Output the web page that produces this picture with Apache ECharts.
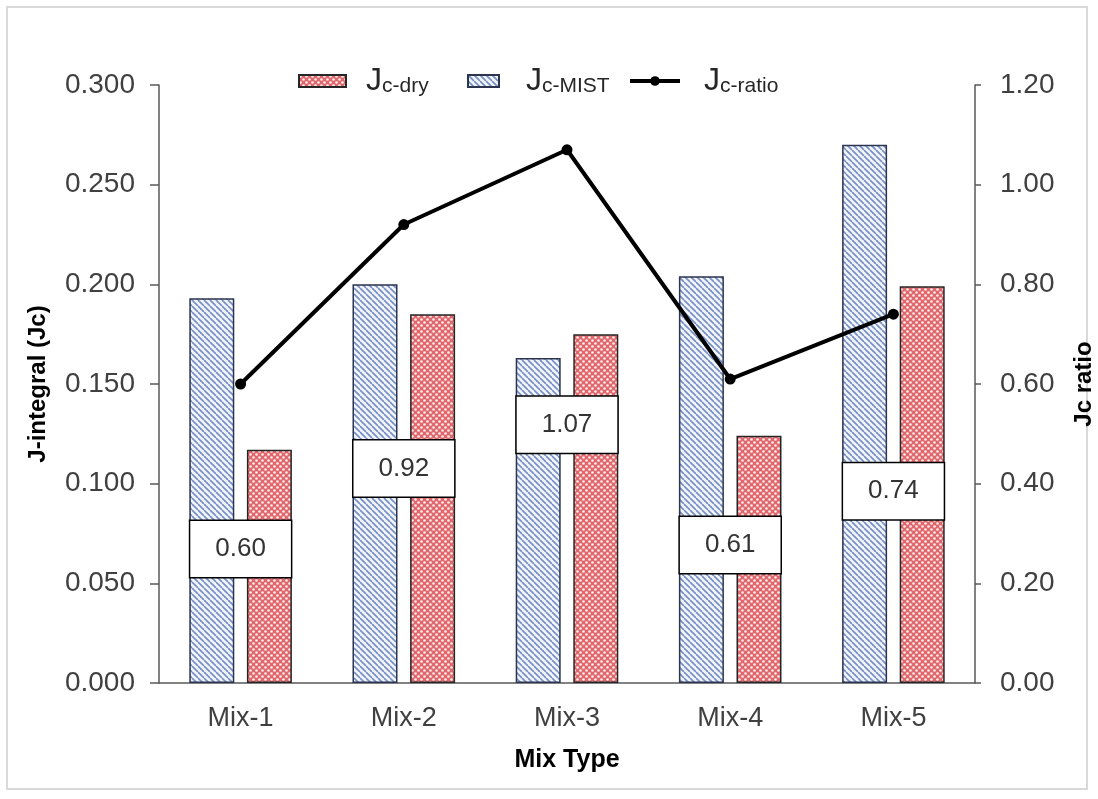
<!DOCTYPE html>
<html>
<head>
<meta charset="utf-8">
<script src="https://cdn.jsdelivr.net/npm/echarts@6/dist/echarts.min.js"></script>
<style>
  html, body { margin: 0; padding: 0; background: #fff; }
  #wrap { position: relative; width: 1098px; height: 799px; }
  #frame { position: absolute; left: 6px; top: 6px; width: 1082px; height: 784px; border: 2px solid #d9d9d9; box-sizing: border-box; }
  #chart { position: absolute; left: 0; top: 0; width: 1098px; height: 799px; }
</style>
</head>
<body>
<div id="wrap">
  <div id="frame"></div>
  <div id="chart"></div>
</div>
<script>
// data
const categories = ['Mix-1', 'Mix-2', 'Mix-3', 'Mix-4', 'Mix-5'];
const jcMist = [0.193, 0.200, 0.163, 0.204, 0.270];
const jcDry = [0.117, 0.185, 0.175, 0.124, 0.199];
const jcRatio = [0.60, 0.92, 1.07, 0.61, 0.74];

// how far each ratio label box sits below its point (px)
const labelShift = [165, 244, 275, 166, 177];

const FONT = 'Liberation Sans, Arial, sans-serif';

// hatch fills
function stripePattern() {
  const c = document.createElement('canvas');
  c.width = 6; c.height = 6;
  const g = c.getContext('2d');
  g.fillStyle = '#f2f5fb';
  g.fillRect(0, 0, 6, 6);
  g.strokeStyle = '#7890c4';
  g.lineWidth = 1.7;
  [-6, 0, 6].forEach(k => {
    g.beginPath();
    g.moveTo(k, 0);
    g.lineTo(k + 6, 6);
    g.stroke();
  });
  return c;
}

function dotPattern() {
  const c = document.createElement('canvas');
  c.width = 6; c.height = 6;
  const g = c.getContext('2d');
  g.fillStyle = '#e0686c';
  g.fillRect(0, 0, 6, 6);
  g.fillStyle = '#fdeeee';
  g.beginPath(); g.arc(1.5, 1.5, 1.3, 0, Math.PI * 2); g.fill();
  g.beginPath(); g.arc(4.5, 4.5, 1.3, 0, Math.PI * 2); g.fill();
  return c;
}

const mistFill = { image: stripePattern(), repeat: 'repeat' };
const dryFill = { image: dotPattern(), repeat: 'repeat' };

const subs = { 'Jc-dry': 'c-dry', 'Jc-MIST': 'c-MIST', 'Jc-ratio': 'c-ratio' };

function makeLegend(name, left, w, h, padLeft, icon) {
  return {
    data: [{ name: name, icon: icon }],
    left: left,
    top: 60,
    itemWidth: w,
    itemHeight: h,
    selectedMode: false,
    lineStyle: { width: 4 },
    formatter: n => '{j|J}{s|' + subs[n] + '}',
    textStyle: {
      padding: [0, 0, 0, padLeft],
      rich: {
        j: { fontSize: 32, fontFamily: FONT, color: '#262626', lineHeight: 32, padding: [0, 0, 8, 0], verticalAlign: 'top' },
        s: { fontSize: 21, fontFamily: FONT, color: '#262626', lineHeight: 21, verticalAlign: 'bottom' }
      }
    }
  };
}

const chart = echarts.init(document.getElementById('chart'));

const option = {
  animation: false,
  backgroundColor: 'transparent',
  grid: { left: 159, right: 123, top: 85, bottom: 116, containLabel: false, outerBoundsMode: 'none' },
  legend: [
    makeLegend('Jc-dry', 293, 47, 12, 15, 'rect'),
    makeLegend('Jc-MIST', 462, 31, 12, 22, 'rect'),
    makeLegend('Jc-ratio', 623, 50, 12, 19, undefined)
  ],
  xAxis: {
    type: 'category',
    data: categories,
    name: 'Mix Type',
    nameLocation: 'middle',
    nameGap: 65,
    nameTextStyle: { fontSize: 25, fontWeight: 'bold', color: '#000', fontFamily: FONT },
    axisLine: { lineStyle: { color: '#595959', width: 1.5 } },
    axisTick: { show: false },
    axisLabel: { fontSize: 27, color: '#404040', fontFamily: FONT, margin: 22 }
  },
  yAxis: [{
    type: 'value',
    min: 0,
    max: 0.3,
    interval: 0.05,
    name: 'J-integral (Jc)',
    nameLocation: 'middle',
    nameGap: 109,
    nameTextStyle: { fontSize: 24, fontWeight: 'bold', color: '#000', fontFamily: FONT },
    axisLine: { show: true, lineStyle: { color: '#595959', width: 1.5 } },
    axisTick: { show: true, length: 9, lineStyle: { color: '#595959', width: 1.5 } },
    axisLabel: { fontSize: 28, color: '#404040', fontFamily: FONT, margin: 24, formatter: v => v.toFixed(3) },
    splitLine: { show: false }
  }, {
    type: 'value',
    min: 0,
    max: 1.2,
    interval: 0.2,
    position: 'right',
    name: 'Jc ratio',
    nameLocation: 'middle',
    nameGap: 97,
    nameRotate: 90,
    nameTextStyle: { fontSize: 24, fontWeight: 'bold', color: '#000', fontFamily: FONT },
    axisLine: { show: true, lineStyle: { color: '#595959', width: 1.5 } },
    axisTick: { show: true, length: 6, lineStyle: { color: '#595959', width: 1.5 } },
    axisLabel: { fontSize: 28, color: '#404040', fontFamily: FONT, margin: 25, formatter: v => v.toFixed(2) },
    splitLine: { show: false }
  }],
  series: [{
    name: 'Jc-MIST',
    type: 'bar',
    data: jcMist,
    barWidth: 45,
    barGap: '28%',
    itemStyle: { color: mistFill, borderColor: '#2b3552', borderWidth: 1.5 }
  }, {
    name: 'Jc-dry',
    type: 'bar',
    data: jcDry,
    barWidth: 45,
    itemStyle: { color: dryFill, borderColor: '#262626', borderWidth: 1.5 }
  }, {
    name: 'Jc-ratio',
    type: 'line',
    yAxisIndex: 1,
    z: 5,
    data: jcRatio.map((v, i) => ({
      value: v,
      label: { offset: [0, labelShift[i]] }
    })),
    symbol: 'circle',
    symbolSize: 11,
    lineStyle: { color: '#000', width: 4 },
    itemStyle: { color: '#000' },
    label: {
      show: true,
      position: 'inside',
      formatter: p => p.value.toFixed(2),
      fontSize: 26,
      fontFamily: FONT,
      color: '#333',
      backgroundColor: '#fff',
      borderColor: '#000',
      borderWidth: 1.5,
      padding: [15, 25]
    }
  }]
};

chart.setOption(option);
</script>
</body>
</html>
